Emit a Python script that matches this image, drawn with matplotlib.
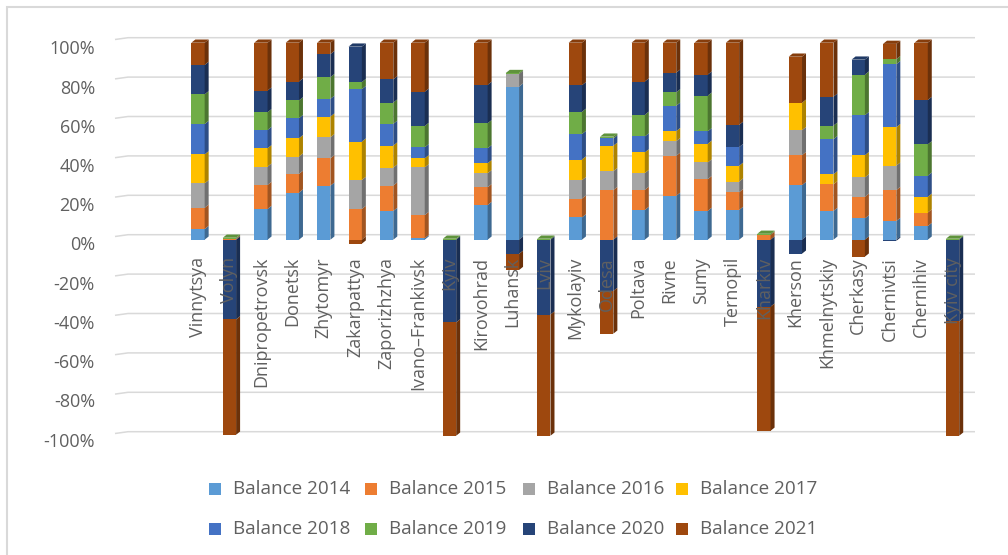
import matplotlib
matplotlib.use("Agg")
import matplotlib.pyplot as plt
from matplotlib.patches import Polygon, Rectangle
import matplotlib.colors as mcolors
import numpy as np

categories = ["Vinnytsya", "Volyn", "Dnipropetrovsk", "Donetsk", "Zhytomyr",
              "Zakarpattya", "Zaporizhzhya", "Ivano\u2013Frankivsk", "Kyiv",
              "Kirovohrad", "Luhansk", "Lviv", "Mykolayiv", "Odesa", "Poltava",
              "Rivne", "Sumy", "Ternopil", "Kharkiv", "Kherson", "Khmelnytskiy",
              "Cherkasy", "Chernivtsi", "Chernihiv", "Kyiv city"]

series_names = ["Balance 2014", "Balance 2015", "Balance 2016", "Balance 2017",
                "Balance 2018", "Balance 2019", "Balance 2020", "Balance 2021"]

balance_2014 = [5.4, 0, 15.6, 23.9, 27.4, 0, 14.6, 0.7, 0, 17.6, 77.7, 0, 11.3,
                0, 15.1, 22.3, 14.6, 15.1, 0, 27.7, 14.6, 10.8, 9.5, 6.9, 0]
balance_2015 = [10.8, 0.5, 12.2, 9.5, 13.9, 15.6, 12.9, 11.8, 0, 9.0, 0, 0, 9.6,
                25.2, 10.2, 20.3, 16.1, 9.0, 2.5, 15.2, 13.5, 11.0, 15.7, 6.9, 0]
balance_2016 = [12.4, 0, 9.3, 8.8, 10.7, 14.7, 9.1, 24.2, 0, 7.1, 6.4, 0, 9.3,
                9.6, 8.5, 7.4, 8.5, 5.4, 0, 12.7, 0, 9.8, 12.4, 0, 0]
balance_2017 = [14.7, 0, 9.3, 9.3, 10.5, 19.5, 11.2, 4.6, 0, 5.1, 0, 0, 10.5,
                12.9, 10.5, 5.1, 9.5, 8.0, 0, 13.9, 5.1, 11.3, 19.5, 8.0, 0]
balance_2018 = [15.4, 0, 9.3, 10.2, 9.0, 26.6, 11.0, 5.6, 0, 7.6, 0, 0, 12.9,
                3.7, 8.1, 12.9, 6.3, 9.5, 0, 0, 17.8, 20.3, 32.0, 10.7, 0]
balance_2019 = [15.1, 0.5, 9.0, 9.0, 11.0, 3.6, 10.8, 10.8, 0.5, 12.7, 0.5, 0.5,
                11.3, 0.9, 11.0, 6.8, 18.1, 0, 0.5, 0, 6.9, 20.6, 2.5, 15.9, 0.5]
balance_2020 = [14.9, -40.5, 11.0, 9.6, 11.7, 18.0, 11.8, 17.4, -42.0, 19.5, -7.2,
                -38.0, 13.5, -26.0, 16.9, 10.0, 10.7, 11.3, -34.0, -7.1, 14.7,
                7.6, -0.6, 22.5, -41.5]
balance_2021 = [11.3, -58.5, 24.3, 19.7, 5.8, -2.0, 18.6, 24.9, -57.5, 21.4, -8.2,
                -61.5, 21.6, -21.7, 19.7, 15.2, 16.2, 41.7, -63.0, 23.4, 27.4,
                -8.6, 7.8, 29.1, -58.0]

series_values = [balance_2014, balance_2015, balance_2016, balance_2017,
                 balance_2018, balance_2019, balance_2020, balance_2021]
colors = ["#5B9BD5", "#ED7D31", "#A5A5A5", "#FFC000",
          "#4472C4", "#70AD47", "#264478", "#9E480E"]
y_ticks = [100, 80, 60, 40, 20, 0, -20, -40, -60, -80, -100]

# ---- layout (pixels) ----
W, H = 1008, 555
X0PX, XS = 198.0, 31.44     # px of category 0, px per category
Y0PX, YS = 239.7, 1.97      # px of 0 %, px per %
AX_L, AX_R, AX_T, AX_B = 105, 985, 30, 445
TXT = "#606060"
FONT = "Open Sans"

fig = plt.figure(figsize=(W / 100, H / 100), dpi=100)
ax = fig.add_axes([AX_L / W, (H - AX_B) / H, (AX_R - AX_L) / W, (AX_B - AX_T) / H])
ax.set_xlim((AX_L - X0PX) / XS, (AX_R - X0PX) / XS)
ax.set_ylim((Y0PX - AX_B) / YS, (Y0PX - AX_T) / YS)
ax.axis("off")

# outer chart frame
fig.patches.append(Rectangle((7 / W, -0.1), 1.2, 1 - 7 / H + 0.1,
                             transform=fig.transFigure, fill=False,
                             edgecolor="#D9D9D9", linewidth=1.5))

# gridlines (back wall, slightly shifted up) with small floor slant at left
g_off = 5.0 / YS
gx0 = (115 - X0PX) / XS
gx1 = (128 - X0PX) / XS
gx2 = (975 - X0PX) / XS
for v in y_ticks:
    yy = v + g_off
    ax.plot([gx0, gx1, gx2], [yy - 1.8 / YS, yy, yy], color="#D9D9D9",
            lw=1.1, zorder=0, solid_capstyle="butt")
    fig.text(95 / W, 1 - (245.5 - 1.962 * v) / H, f"{v}%", ha="right",
             va="center", fontsize=13, color=TXT, family=FONT)

x = np.arange(len(categories))
bw = 13.3 / XS
dx = 4.0 / XS
dy = 3.2 / YS


def shade(c, f):
    r, g, b = mcolors.to_rgb(c)
    return (r * f, g * f, b * f)


pos_bottom = np.zeros(len(categories))
neg_bottom = np.zeros(len(categories))
top_info = {}   # category -> (top y, color, x0, x1) for top face
for vals, col, name in zip(series_values, colors, series_names):
    vals = np.array(vals, dtype=float)
    bottoms = np.where(vals >= 0, pos_bottom, neg_bottom)
    bars = ax.bar(x, vals, width=bw, bottom=bottoms, color=col,
                  linewidth=0, zorder=2, label=name)
    for i, rect in enumerate(bars.patches):
        h = rect.get_height()
        if h == 0:
            continue
        x0 = rect.get_x()
        x1 = x0 + rect.get_width()
        yb = rect.get_y()
        yt = yb + h
        lo, hi = min(yb, yt), max(yb, yt)
        side = Polygon([(x1, lo), (x1 + dx, lo + dy), (x1 + dx, hi + dy), (x1, hi)],
                       closed=True, facecolor=shade(col, 0.68), edgecolor="none",
                       zorder=2)
        ax.add_patch(side)
        if vals[i] > 0:
            if i not in top_info or top_info[i][0] <= hi:
                top_info[i] = (hi, col, x0, x1)
    pos_bottom = pos_bottom + np.where(vals >= 0, vals, 0)
    neg_bottom = neg_bottom + np.where(vals < 0, vals, 0)

# For negative-only stacks, the top face belongs to the first negative segment
for i in range(len(categories)):
    if pos_bottom[i] == 0:
        for vals, col in zip(series_values, colors):
            if vals[i] < 0:
                top_info[i] = (0.0, col, x[i] - bw / 2, x[i] + bw / 2)
                break

for i, (yt, col, x0, x1) in top_info.items():
    top = Polygon([(x0, yt), (x0 + dx, yt + dy), (x1 + dx, yt + dy), (x1, yt)],
                  closed=True, facecolor=shade(col, 0.85), edgecolor="none",
                  zorder=2)
    ax.add_patch(top)

# category labels next to the 0 axis
label_y = (Y0PX - 257) / YS
for i, name in enumerate(categories):
    ax.text(x[i], label_y, name, rotation=90, ha="center", va="top",
            fontsize=13, color=TXT, family=FONT, zorder=5)

# legend (two rows of four)
leg_cols = [209, 365, 523, 676]
leg_rows = [489, 529]
for k, (name, col) in enumerate(zip(series_names, colors)):
    r, c = divmod(k, 4)
    mx, my = leg_cols[c], leg_rows[r]
    fig.patches.append(Rectangle((mx / W, 1 - (my + 6) / H), 12 / W, 12 / H,
                                 transform=fig.transFigure, facecolor=col,
                                 edgecolor="none"))
    fig.text((mx + 24) / W, 1 - my / H, name, ha="left", va="center",
             fontsize=13.6, color=TXT, family=FONT)

fig.savefig("out.png", dpi=100, facecolor="white")
